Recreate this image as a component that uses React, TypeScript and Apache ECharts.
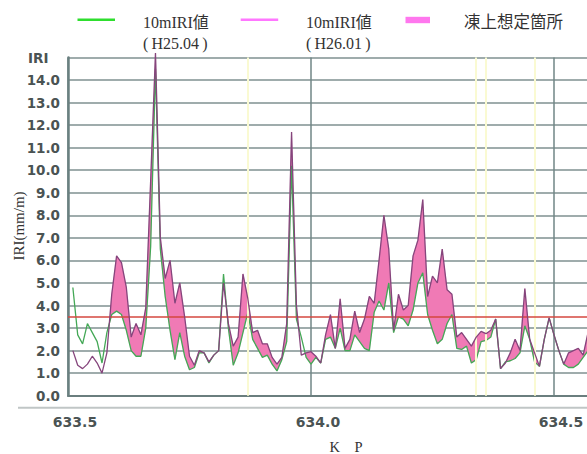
import React, { useEffect, useRef } from 'react';
import * as echarts from 'echarts';

// KP positions (km), one point every 10 m
const kmPoints = [
  633.51, 633.52, 633.53, 633.54, 633.55, 633.56, 633.57, 633.58, 633.59, 633.60,
  633.61, 633.62, 633.63, 633.64, 633.65, 633.66, 633.67, 633.68, 633.69, 633.70,
  633.71, 633.72, 633.73, 633.74, 633.75, 633.76, 633.77, 633.78, 633.79, 633.80,
  633.81, 633.82, 633.83, 633.84, 633.85, 633.86, 633.87, 633.88, 633.89, 633.90,
  633.91, 633.92, 633.93, 633.94, 633.95, 633.96, 633.97, 633.98, 633.99, 634.00,
  634.01, 634.02, 634.03, 634.04, 634.05, 634.06, 634.07, 634.08, 634.09, 634.10,
  634.11, 634.12, 634.13, 634.14, 634.15, 634.16, 634.17, 634.18, 634.19, 634.20,
  634.21, 634.22, 634.23, 634.24, 634.25, 634.26, 634.27, 634.28, 634.29, 634.30,
  634.31, 634.32, 634.33, 634.34, 634.35, 634.36, 634.37, 634.38, 634.39, 634.40,
  634.41, 634.42, 634.43, 634.44, 634.45, 634.46, 634.47, 634.48, 634.49, 634.50,
  634.51, 634.52, 634.53, 634.54, 634.55, 634.56, 634.57,
];

// 10mIRI (H25.04)
const iriH2504 = [
  4.8, 2.7, 2.3, 3.2, 2.8, 2.4, 1.45, 2.8, 3.6, 3.75,
  3.6, 2.9, 2.0, 1.75, 1.75, 3.0, 6.6, 14.5, 6.5, 4.4,
  2.9, 1.6, 2.8, 1.75, 1.15, 1.25, 1.9, 1.9, 1.45, 1.8,
  2.0, 5.4, 3.0, 1.35, 1.9, 2.8, 3.7, 2.5, 2.1, 1.7,
  1.8, 1.4, 1.1, 1.6, 2.4, 10.2, 3.4, 2.6, 1.7, 1.4,
  1.7, 1.45, 2.5, 2.6, 2.1, 3.0, 2.0, 2.0, 2.7, 2.4,
  2.1, 2.0, 3.7, 4.2, 3.8, 5.0, 2.8, 3.5, 3.4, 3.1,
  3.8, 5.0, 5.45, 3.6, 2.9, 2.3, 2.5, 3.2, 3.6, 2.1,
  2.05, 2.2, 1.45, 1.6, 2.4, 2.45, 2.6, 3.4, 1.2, 1.5,
  1.55, 1.65, 1.9, 3.1, 2.5, 1.5, 1.3, 2.5, 3.45, 2.7,
  2.0, 1.4, 1.25, 1.25, 1.4, 1.7, 2.0,
];

// 10mIRI (H26.01)
const iriH2601 = [
  2.0, 1.35, 1.2, 1.4, 1.75, 1.45, 1.0, 1.9, 4.5, 6.2,
  5.9, 4.8, 2.6, 3.2, 2.7, 3.9, 9.5, 15.2, 7.0, 5.2,
  6.0, 4.1, 5.0, 3.5, 1.75, 1.35, 2.0, 1.9, 1.5, 1.8,
  2.0, 5.0, 3.2, 2.2, 2.6, 5.4, 4.3, 2.8, 2.9, 2.3,
  2.3, 1.7, 1.4, 1.7, 3.2, 11.7, 4.0, 1.8, 1.9, 1.95,
  1.75, 1.45, 2.7, 3.6, 2.1, 4.3, 2.1, 2.5, 3.75, 2.8,
  3.4, 4.4, 4.1, 6.0, 8.0, 6.5, 2.9, 4.5, 3.8, 4.0,
  6.2, 6.9, 8.7, 4.4, 5.3, 5.0, 6.5, 4.7, 4.5, 2.6,
  2.8, 2.5, 2.2, 2.6, 2.85, 2.75, 2.9, 3.4, 1.2, 1.45,
  1.9, 2.5, 2.0, 4.75, 2.5, 1.9, 1.3, 2.5, 3.45, 2.7,
  2.0, 1.4, 1.9, 2.0, 2.1, 1.8, 2.8,
];

const thresholdIRI = 3.5;
const markerKm = [633.87, 634.343, 634.364, 634.461];
const legendLabels = ['10mIRI値', '(\u2009H25.04\u2009)', '10mIRI値', '(\u2009H26.01\u2009)', '凍上想定箇所'];
const yAxisTitle = 'IRI(mm/m)';
const xAxisTitle = 'K\u3000P';
const yTopLabel = 'IRI';

const SERIF = "'Liberation Serif', 'DejaVu Serif', 'Noto Sans CJK JP', serif";
const BOLD = "'DejaVu Sans', Verdana, sans-serif";
const LABEL_COLOR = '#4a5353';
const FILL = '#f07ab5';

function buildFrostPolygons(): number[][][] {
  const polys: number[][][] = [];
  let top: number[][] = [];
  let bot: number[][] = [];
  for (let i = 0; i < kmPoints.length; i++) {
    const d = iriH2601[i] - iriH2504[i];
    if (d > 0) {
      if (top.length === 0 && i > 0) {
        const dp = iriH2601[i - 1] - iriH2504[i - 1];
        const t = dp / (dp - d);
        const x = kmPoints[i - 1] + t * (kmPoints[i] - kmPoints[i - 1]);
        const y = iriH2504[i - 1] + t * (iriH2504[i] - iriH2504[i - 1]);
        top.push([x, y]);
        bot.push([x, y]);
      }
      top.push([kmPoints[i], iriH2601[i]]);
      bot.push([kmPoints[i], iriH2504[i]]);
    } else if (top.length) {
      const dp = iriH2601[i - 1] - iriH2504[i - 1];
      const t = dp / (dp - d);
      const x = kmPoints[i - 1] + t * (kmPoints[i] - kmPoints[i - 1]);
      const y = iriH2504[i - 1] + t * (iriH2504[i] - iriH2504[i - 1]);
      top.push([x, y]);
      bot.push([x, y]);
      polys.push(top.concat(bot.reverse()));
      top = [];
      bot = [];
    }
  }
  if (top.length) polys.push(top.concat(bot.reverse()));
  return polys;
}

const textStyle = (text: string, font: string, align = 'left', fill = '#333', lineHeight?: number) => ({
  text,
  font,
  fill,
  align,
  verticalAlign: 'middle',
  textAlign: align,
  textVerticalAlign: 'middle',
  ...(lineHeight ? { lineHeight } : {}),
});

export default function App() {
  const ref = useRef<HTMLDivElement>(null);

  useEffect(() => {
    if (!ref.current) return;
    const chart = echarts.init(ref.current, undefined, { renderer: 'svg' });
    const polys = buildFrostPolygons();
    const xMin = 633.5;
    const xMax = 634.61;
    const left = 68;
    const right = 587 - left - (xMax - xMin) * 486;

    const option: any = {
      animation: false,
      grid: {
        left,
        right,
        top: 57.5,
        bottom: 58.3,
        containLabel: false,
        outerBoundsMode: 'none',
      },
      xAxis: {
        type: 'value',
        min: xMin,
        max: xMax,
        interval: 0.5,
        axisLine: { show: true, onZero: false, lineStyle: { color: '#6a7e7e', width: 2 } },
        axisTick: { show: false },
        axisLabel: {
          showMaxLabel: false,
          margin: 19,
          padding: [0, 0, 0, 14],
          color: LABEL_COLOR,
          fontWeight: 'bold',
          fontSize: 14,
          fontFamily: BOLD,
          formatter: (v: number) => v.toFixed(1),
        },
        splitLine: { show: true, lineStyle: { color: '#708686', width: 1.5 } },
      },
      yAxis: {
        type: 'value',
        min: 0,
        max: 15,
        interval: 1,
        axisLine: { show: true, lineStyle: { color: '#6a8080', width: 2.5 } },
        axisTick: { show: false },
        axisLabel: {
          margin: 8,
          color: LABEL_COLOR,
          fontWeight: 'bold',
          fontSize: 13.5,
          fontFamily: BOLD,
          formatter: (v: number) => (v >= 15 ? '' : v.toFixed(1)),
        },
        splitLine: { show: true, lineStyle: { color: '#7f9191', width: 1.5 } },
      },
      graphic: [
        { type: 'line', shape: { x1: 18, y1: 407.7, x2: 587, y2: 407.7 }, style: { stroke: '#c0c6c6', lineWidth: 2 }, silent: true },
        { type: 'text', x: 28, y: 58, style: textStyle(yTopLabel, `bold 13.5px ${BOLD}`, 'left', LABEL_COLOR) },
        { type: 'text', x: 19, y: 226, rotation: Math.PI / 2, style: textStyle(yAxisTitle, `15px ${SERIF}`, 'center', '#333') },
        { type: 'text', x: 346, y: 447, style: textStyle(xAxisTitle, `14.5px ${SERIF}`, 'center', '#333', 12) },
        { type: 'line', shape: { x1: 77.5, y1: 19.8, x2: 115, y2: 19.8 }, style: { stroke: '#2ede2e', lineWidth: 2.5 } },
        { type: 'text', x: 143, y: 22.5, style: textStyle(legendLabels[0], `16px ${SERIF}`) },
        { type: 'text', x: 143, y: 43, style: textStyle(legendLabels[1], `16px ${SERIF}`) },
        { type: 'line', shape: { x1: 240.7, y1: 19.8, x2: 278.2, y2: 19.8 }, style: { stroke: '#ff77ff', lineWidth: 2.5 } },
        { type: 'text', x: 306, y: 22.5, style: textStyle(legendLabels[2], `16px ${SERIF}`) },
        { type: 'text', x: 306, y: 43, style: textStyle(legendLabels[3], `16px ${SERIF}`) },
        { type: 'rect', shape: { x: 405.5, y: 16.8, width: 24.5, height: 6.4 }, style: { fill: '#ff77ee' } },
        { type: 'text', x: 464, y: 22.5, style: textStyle(legendLabels[4], `16.5px ${SERIF}`) },
      ],
      series: [
        {
          type: 'line',
          data: [],
          z: 1,
          silent: true,
          markLine: {
            silent: true,
            symbol: 'none',
            label: { show: false },
            lineStyle: { type: 'solid', color: '#fafad2', width: 2 },
            data: markerKm.map((k) => ({ xAxis: k })),
          },
        },
        {
          type: 'custom',
          z: 2,
          silent: true,
          data: [[xMin, 0]],
          renderItem: (_params: any, api: any) => ({
            type: 'group',
            children: polys.map((poly) => ({
              type: 'polygon',
              shape: { points: poly.map((pt) => api.coord(pt)) },
              style: { fill: FILL, stroke: FILL, lineWidth: 0.3 },
            })),
          }),
        },
        {
          type: 'line',
          data: [],
          z: 3,
          silent: true,
          markLine: {
            silent: true,
            symbol: 'none',
            label: { show: false },
            lineStyle: { type: 'solid', color: '#d5473f', width: 1.5 },
            data: [{ yAxis: thresholdIRI }],
          },
        },
        {
          name: '10mIRI値(H25.04)',
          type: 'line',
          z: 4,
          silent: true,
          symbol: 'none',
          showSymbol: false,
          data: kmPoints.map((k, i) => [k, iriH2504[i]]),
          lineStyle: { color: '#44a856', width: 1.3 },
          itemStyle: { color: '#44a856' },
        },
        {
          name: '10mIRI値(H26.01)',
          type: 'line',
          z: 5,
          silent: true,
          clip: false,
          symbol: 'none',
          showSymbol: false,
          data: kmPoints.map((k, i) => [k, iriH2601[i]]),
          lineStyle: { color: '#85457c', width: 1.3 },
          itemStyle: { color: '#85457c' },
        },
      ],
    };

    chart.setOption(option);
    return () => chart.dispose();
  }, []);

  return (
    <div
      ref={ref}
      style={{ position: 'absolute', left: 0, top: 0, width: 587, height: 454, background: '#fff' }}
    />
  );
}
